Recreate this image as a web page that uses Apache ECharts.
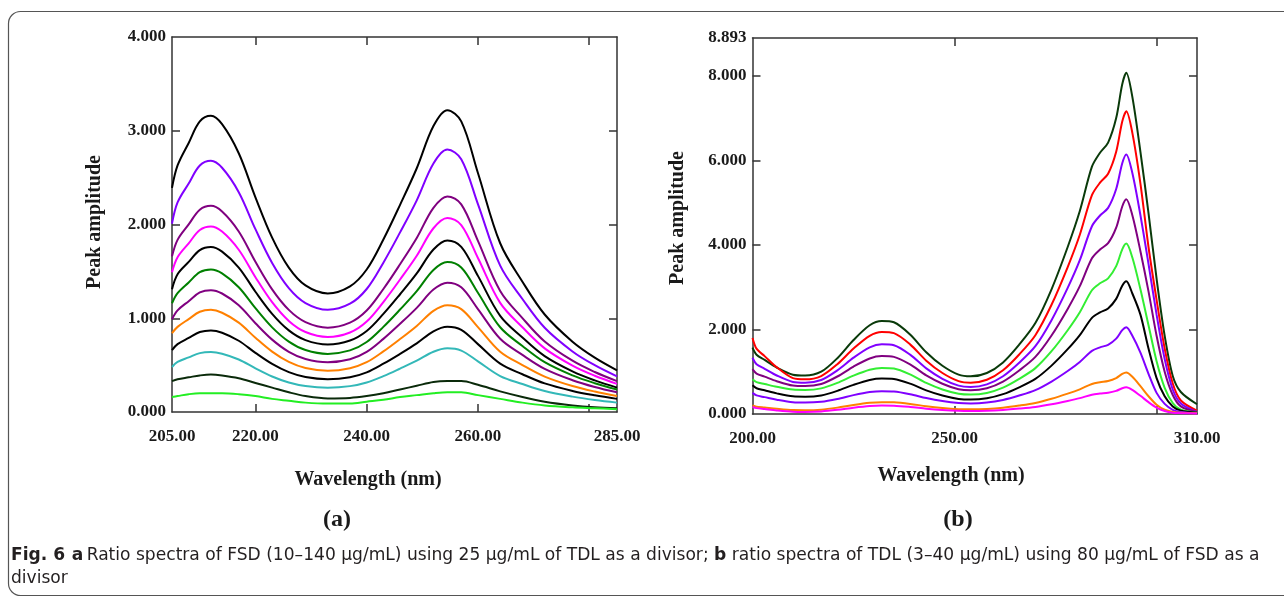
<!DOCTYPE html>
<html>
<head>
<meta charset="utf-8">
<script src="https://cdn.jsdelivr.net/npm/echarts@6/dist/echarts.min.js"></script>
<style>
html,body{margin:0;padding:0;background:#fff;}
#c{width:1284px;height:597px;}
</style>
</head>
<body>
<div id="c"></div>
<script>
// ---------- Panel (a): ratio spectra of FSD ----------
const wlA = [205,206,208,210,212,214,217,220,223,226,229,233,237,240,243,246,249,252,254.5,257,260,264,268,272,277,281,285];
const a1 = [2.39,2.63,2.87,3.10,3.16,3.07,2.76,2.29,1.86,1.54,1.35,1.265,1.34,1.52,1.84,2.21,2.60,3.05,3.22,3.10,2.55,1.80,1.39,1.04,0.75,0.58,0.445];
const a2 = [2.01,2.235,2.437,2.629,2.68,2.605,2.345,1.950,1.589,1.321,1.162,1.09,1.155,1.312,1.593,1.916,2.258,2.651,2.80,2.696,2.217,1.561,1.205,0.898,0.646,0.499,0.38];
const a3 = [1.66,1.836,2.001,2.158,2.20,2.139,1.926,1.603,1.308,1.089,0.959,0.90,0.953,1.082,1.312,1.576,1.856,2.178,2.30,2.215,1.825,1.291,1.002,0.752,0.547,0.427,0.33];
const a4 = [1.49,1.650,1.799,1.942,1.98,1.925,1.731,1.438,1.171,0.971,0.853,0.80,0.848,0.965,1.173,1.413,1.667,1.960,2.07,1.994,1.643,1.164,0.904,0.679,0.495,0.387,0.30];
const a5 = [1.31,1.469,1.601,1.727,1.76,1.711,1.541,1.283,1.047,0.871,0.767,0.72,0.762,0.864,1.046,1.256,1.478,1.733,1.83,1.762,1.452,1.026,0.795,0.596,0.433,0.337,0.26];
const a6 = [1.16,1.268,1.382,1.491,1.52,1.478,1.330,1.107,0.903,0.751,0.661,0.62,0.657,0.747,0.908,1.093,1.289,1.515,1.60,1.542,1.272,0.904,0.704,0.531,0.390,0.307,0.24];
const a7 = [0.99,1.084,1.182,1.275,1.30,1.264,1.138,0.947,0.772,0.642,0.565,0.53,0.562,0.641,0.780,0.941,1.111,1.306,1.38,1.330,1.098,0.781,0.609,0.460,0.339,0.267,0.21];
const a8 = [0.84,0.908,0.991,1.069,1.09,1.059,0.953,0.792,0.644,0.534,0.469,0.44,0.467,0.531,0.646,0.778,0.918,1.079,1.14,1.098,0.906,0.643,0.501,0.378,0.277,0.218,0.17];
const a9 = [0.66,0.724,0.790,0.853,0.87,0.846,0.760,0.631,0.513,0.425,0.373,0.35,0.371,0.423,0.515,0.620,0.732,0.861,0.91,0.877,0.724,0.516,0.403,0.305,0.225,0.178,0.14];
const a10 = [0.48,0.534,0.582,0.628,0.64,0.622,0.560,0.466,0.379,0.315,0.277,0.26,0.276,0.315,0.383,0.463,0.547,0.643,0.68,0.655,0.540,0.383,0.298,0.224,0.164,0.128,0.10];
const a11 = [0.33,0.35,0.37,0.39,0.40,0.39,0.36,0.31,0.26,0.21,0.17,0.145,0.15,0.17,0.20,0.24,0.28,0.32,0.33,0.33,0.29,0.22,0.16,0.11,0.07,0.05,0.04];
const a12 = [0.16,0.17,0.19,0.20,0.20,0.20,0.19,0.17,0.14,0.12,0.10,0.09,0.09,0.11,0.13,0.16,0.18,0.20,0.21,0.21,0.18,0.14,0.10,0.07,0.05,0.04,0.03];
const seriesA = [a1,a2,a3,a4,a5,a6,a7,a8,a9,a10,a11,a12];
const colorsA = ['#000000','#8000ff','#800080','#ff00ff','#000000','#008000','#800080','#ff8000','#000000','#33b8b8','#0a2a0a','#22ee22'];
const xLabelsA = [205,220,240,260,285];
const xTicksA = [220,240,260,280];
const yTicksA = [1,2,3];

// ---------- Panel (b): ratio spectra of TDL ----------
const wlB = [200,201,203,206,210,213,217,221,225,229,232,235,239,243,247,251,254,258,262,266,270,274,278,281,284,286,288,290,291.5,292.5,294,296,298,300,302,304,306,310];
const b1 = [1.57,1.40,1.28,1.10,0.93,0.91,1.00,1.32,1.75,2.10,2.20,2.17,1.88,1.46,1.14,0.93,0.89,0.97,1.22,1.64,2.15,2.95,3.95,4.80,5.85,6.18,6.42,7.00,7.80,8.07,7.50,6.20,4.75,3.20,1.85,0.90,0.52,0.23];
const b2 = [1.80,1.545,1.369,1.104,0.849,0.82,0.898,1.178,1.548,1.850,1.94,1.912,1.647,1.262,0.969,0.777,0.74,0.811,1.035,1.408,1.864,2.583,3.475,4.239,5.176,5.471,5.683,6.203,6.916,7.16,6.65,5.45,3.95,2.70,1.55,0.72,0.32,0.08];
const b3 = [1.33,1.177,1.070,0.911,0.758,0.74,0.804,1.031,1.332,1.577,1.65,1.627,1.404,1.079,0.833,0.671,0.64,0.701,0.893,1.212,1.603,2.219,2.983,3.638,4.441,4.694,4.875,5.321,5.931,6.14,5.70,4.70,3.55,2.35,1.30,0.58,0.25,0.05];
const b4 = [1.06,0.956,0.884,0.776,0.672,0.66,0.710,0.887,1.122,1.313,1.37,1.351,1.172,0.912,0.715,0.585,0.56,0.610,0.768,1.030,1.351,1.857,2.486,3.023,3.683,3.891,4.040,4.407,4.908,5.08,4.70,3.85,2.90,1.85,1.00,0.45,0.18,0.04];
const b5 = [0.82,0.755,0.710,0.643,0.578,0.57,0.606,0.736,0.908,1.048,1.09,1.076,0.936,0.734,0.580,0.480,0.46,0.499,0.624,0.831,1.085,1.485,1.981,2.406,2.927,3.091,3.209,3.498,3.894,4.03,3.70,2.95,2.10,1.25,0.62,0.26,0.10,0.03];
const b6 = [0.68,0.610,0.561,0.488,0.418,0.41,0.440,0.548,0.690,0.806,0.84,0.829,0.718,0.558,0.436,0.356,0.34,0.371,0.469,0.631,0.830,1.144,1.533,1.866,2.275,2.404,2.496,2.723,3.034,3.14,2.85,2.35,1.55,0.85,0.42,0.18,0.08,0.03];
const b7 = [0.50,0.440,0.399,0.337,0.277,0.27,0.289,0.356,0.446,0.518,0.54,0.533,0.469,0.376,0.305,0.259,0.25,0.270,0.333,0.437,0.565,0.767,1.017,1.231,1.494,1.577,1.636,1.782,1.982,2.05,1.85,1.45,0.95,0.50,0.24,0.10,0.05,0.02];
const b8 = [0.20,0.171,0.152,0.122,0.093,0.09,0.103,0.151,0.214,0.265,0.28,0.276,0.239,0.184,0.142,0.115,0.11,0.120,0.150,0.200,0.262,0.360,0.481,0.584,0.711,0.751,0.780,0.850,0.947,0.98,0.88,0.66,0.42,0.22,0.10,0.05,0.03,0.02];
const b9 = [0.17,0.139,0.117,0.085,0.054,0.05,0.061,0.098,0.148,0.188,0.20,0.197,0.168,0.127,0.095,0.074,0.07,0.076,0.096,0.128,0.168,0.231,0.309,0.375,0.457,0.483,0.501,0.547,0.609,0.63,0.57,0.43,0.28,0.15,0.07,0.03,0.02,0.01];
const seriesB = [b1,b2,b3,b4,b5,b6,b7,b8,b9];
const colorsB = ['#0a3a0a','#ff0000','#8000ff','#800080','#33ee33','#000000','#8000ff','#ff8000','#ff00ff'];
const xLabelsB = [200,250,310];
const xTicksB = [250,300];
const yLabelsB = [0,2,4,6,8,8.893];
const yTicksB = [2,4,6,8];

// ---------- Text ----------
const yTitle = 'Peak amplitude';
const xTitle = 'Wavelength (nm)';
const panelA = '(a)';
const panelB = '(b)';

const serif = '"Liberation Serif", "Times New Roman", serif';
const axisCol = '#333';
const lblStyle = {fontFamily: serif, fontWeight: 'bold', fontSize: 17, color: '#1a1a1a'};

function xAx(grid, min, max, labels, ticks, pos) {
  const bottom = pos === 'bottom';
  return {
    type: 'value', gridIndex: grid, min: min, max: max, position: pos,
    axisLine: {show: true, onZero: false, lineStyle: {color: axisCol, width: 1.5}},
    axisTick: {show: true, inside: true, length: 8, customValues: ticks, lineStyle: {color: axisCol, width: 1.5}},
    axisLabel: Object.assign({show: bottom, customValues: labels, margin: 16,
      formatter: v => Number(v).toFixed(2)}, lblStyle),
    splitLine: {show: false}
  };
}
function yAx(grid, min, max, labels, ticks, pos) {
  const left = pos === 'left';
  return {
    type: 'value', gridIndex: grid, min: min, max: max, position: pos,
    axisLine: {show: true, onZero: false, lineStyle: {color: axisCol, width: 1.5}},
    axisTick: {show: true, inside: true, length: 8, customValues: ticks, lineStyle: {color: axisCol, width: 1.5}},
    axisLabel: Object.assign({show: left, customValues: labels, margin: 6,
      formatter: v => Number(v).toFixed(3)}, lblStyle),
    splitLine: {show: false}
  };
}

const series = [];
seriesA.forEach((vals, i) => {
  series.push({
    type: 'line', xAxisIndex: 0, yAxisIndex: 0, showSymbol: false, smooth: 0.35,
    lineStyle: {color: colorsA[i], width: 2}, itemStyle: {color: colorsA[i]},
    data: wlA.map((x, k) => [x, vals[k]]), silent: true
  });
});
seriesB.forEach((vals, i) => {
  series.push({
    type: 'line', xAxisIndex: 2, yAxisIndex: 2, showSymbol: false, smooth: 0.3,
    lineStyle: {color: colorsB[i], width: 2}, itemStyle: {color: colorsB[i]},
    data: wlB.map((x, k) => [x, vals[k]]), silent: true
  });
});

const chart = echarts.init(document.getElementById('c'), null, {renderer: 'canvas'});
chart.setOption({
  animation: false,
  backgroundColor: '#ffffff',
  grid: [
    {left: 172, top: 37, width: 445, height: 375},
    {left: 752.5, top: 38, width: 444.5, height: 376}
  ],
  xAxis: [
    xAx(0, 205, 285, xLabelsA, xTicksA, 'bottom'),
    xAx(0, 205, 285, xLabelsA, xTicksA, 'top'),
    xAx(1, 200, 310, xLabelsB, xTicksB, 'bottom'),
    xAx(1, 200, 310, xLabelsB, xTicksB, 'top')
  ],
  yAxis: [
    Object.assign(yAx(0, 0, 4, [0,1,2,3,4], yTicksA, 'left'), {interval: 1}),
    Object.assign(yAx(0, 0, 4, [0,1,2,3,4], yTicksA, 'right'), {interval: 1}),
    yAx(1, 0, 8.893, yLabelsB, yTicksB, 'left'),
    yAx(1, 0, 8.893, yLabelsB, yTicksB, 'right')
  ],
  series: series,
  graphic: [
    {type: 'rect', shape: {x: 8.5, y: 11.5, width: 1300, height: 584, r: 12},
     style: {fill: 'none', stroke: '#555', lineWidth: 1.2}, silent: true},
    {type: 'text', x: 95, y: 222, rotation: Math.PI / 2,
     style: {text: yTitle, font: 'bold 20px ' + serif, fill: '#1a1a1a', align: 'center', verticalAlign: 'middle'}},
    {type: 'text', x: 678, y: 218, rotation: Math.PI / 2,
     style: {text: yTitle, font: 'bold 20px ' + serif, fill: '#1a1a1a', align: 'center', verticalAlign: 'middle'}},
    {type: 'text', x: 368, y: 480,
     style: {text: xTitle, font: 'bold 20px ' + serif, fill: '#1a1a1a', align: 'center', verticalAlign: 'middle'}},
    {type: 'text', x: 951, y: 476,
     style: {text: xTitle, font: 'bold 20px ' + serif, fill: '#1a1a1a', align: 'center', verticalAlign: 'middle'}},
    {type: 'text', x: 337, y: 520,
     style: {text: panelA, font: 'bold 24px ' + serif, fill: '#1a1a1a', align: 'center', verticalAlign: 'middle'}},
    {type: 'text', x: 958, y: 520,
     style: {text: panelB, font: 'bold 24px ' + serif, fill: '#1a1a1a', align: 'center', verticalAlign: 'middle'}},
    {type: 'text', x: 11, y: 544,
     style: {
       text: '{b|Fig. 6}  {b|a} {n|Ratio spectra of FSD (10–140 µg/mL) using 25 µg/mL of TDL as a divisor; }{b|b}{n| ratio spectra of TDL (3–40 µg/mL) using 80 µg/mL of FSD as a}\n{n|divisor}',
       align: 'left', verticalAlign: 'top',
       rich: {
         b: {fontFamily: '"DejaVu Sans", sans-serif', fontWeight: 'bold', fontSize: 17.1, fill: '#231f20', lineHeight: 23},
         n: {fontFamily: '"DejaVu Sans", sans-serif', fontWeight: 'normal', fontSize: 17.1, fill: '#231f20', lineHeight: 23}
       }
     }}
  ]
});
</script>
</body>
</html>
